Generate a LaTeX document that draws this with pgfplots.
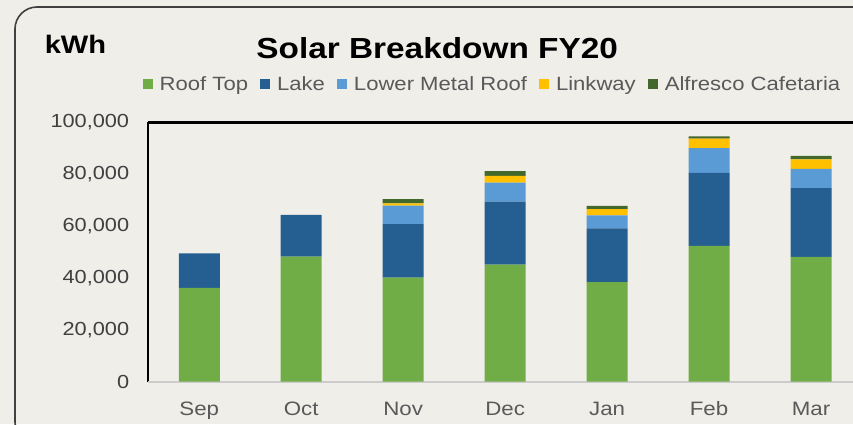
\documentclass[border=0pt]{standalone}
\usepackage{pgfplots}
\pgfplotsset{compat=1.18}
\usepackage{pgfplotstable}
\usepackage{fontspec}
\setmainfont{Liberation Sans}[FakeStretch=1.15]
\definecolor{bg}{HTML}{F0EEE9}
\definecolor{roof}{HTML}{70AD47}
\definecolor{lake}{HTML}{255E91}
\definecolor{lmr}{HTML}{5B9BD5}
\definecolor{link}{HTML}{FFC000}
\definecolor{alf}{HTML}{43682B}
\definecolor{txtgrey}{HTML}{595959}
\definecolor{tickgrey}{HTML}{404040}

\pgfplotstableread{
x roof lake lmr link alf
0 36200 13300 0 0 0
1 48200 16100 0 0 0
2 40100 20600 7200 800 1700
3 45100 24300 7300 2600 1900
4 38400 20700 5000 2400 1300
5 52400 28100 9500 3700 900
6 48100 26500 7400 3700 1400
}\solar

\begin{document}
\begin{tikzpicture}[x=1pt,y=1pt]
\useasboundingbox (0,0) rectangle (853,424);
\clip (0,0) rectangle (853,424);
\fill[bg] (0,0) rectangle (853,424);
\draw[color=tickgrey, line width=1.6pt, rounded corners=22pt] (15,417) rectangle (885,-20);
\node[anchor=base west, inner sep=0pt, font=\bfseries\fontsize{25.3}{28}\selectfont] at (44.6,370.7) {kWh};
\node[anchor=base, inner sep=0pt, font=\bfseries\fontsize{29}{32}\selectfont] at (437.2,365.7) {Solar Breakdown FY20};
\begin{axis}[
  at={(148.3pt,42.3pt)}, anchor=south west,
  scale only axis, width=713.7pt, height=259.4pt,
  ybar stacked, bar width=41pt,
  xmin=-0.5, xmax=6.5, ymin=0, ymax=100000,
  xtick={0,...,6}, xticklabels={Sep,Oct,Nov,Dec,Jan,Feb,Mar},
  ytick={0,20000,40000,60000,80000,100000},
  scaled y ticks=false,
  /pgf/number format/fixed,
  /pgf/number format/1000 sep={,},
  /pgf/number format/assume math mode=true,
  major tick length=0pt,
  axis line style={draw=none},
  clip=false,
  yticklabel style={inner sep=0pt, anchor=east, xshift=-19pt, text=tickgrey, font=\fontsize{18.9}{20}\selectfont},
  xticklabel style={inner sep=0pt, anchor=north, yshift=-20pt, text=txtgrey, font=\fontsize{19.4}{20}\selectfont},
  legend columns=5,
  legend style={at={(axis description cs:0.4816,1.1477)}, anchor=center, draw=none, fill=none,
    font=\fontsize{19.2}{20}\selectfont, text=txtgrey,
    /tikz/every odd column/.append style={column sep=6pt},
    /tikz/every even column/.append style={column sep=11pt},
    nodes={inner sep=1pt}},
  legend image code/.code={\fill[#1] (0pt,-5pt) rectangle (10pt,5pt);},
]
\addplot[fill=roof, draw=none] table[x=x, y=roof] {\solar};
\addplot[fill=lake, draw=none] table[x=x, y=lake] {\solar};
\addplot[fill=lmr, draw=none] table[x=x, y=lmr] {\solar};
\addplot[fill=link, draw=none] table[x=x, y=link] {\solar};
\addplot[fill=alf, draw=none] table[x=x, y=alf] {\solar};
\legend{Roof Top, Lake, Lower Metal Roof, Linkway, Alfresco Cafetaria}
\draw[line width=2pt, color=gray!40] (rel axis cs:0,0) -- (rel axis cs:1,0);
\draw[line width=2pt, black] (rel axis cs:0,0) -- (rel axis cs:0,1);
\draw[line width=2.5pt, black] (rel axis cs:0,1) -- (rel axis cs:1,1);
\end{axis}
\end{tikzpicture}
\end{document}
